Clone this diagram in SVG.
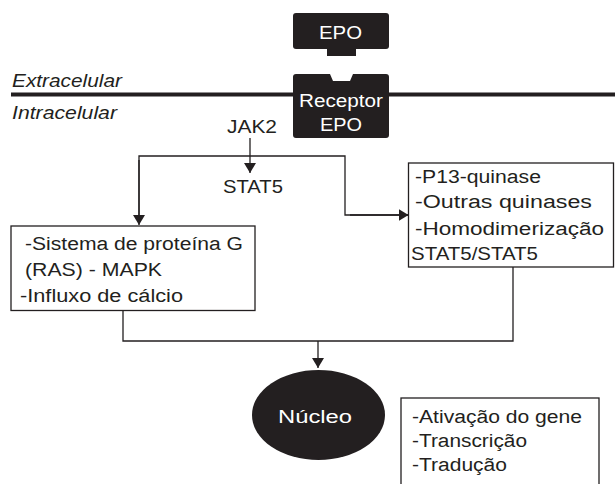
<svg xmlns="http://www.w3.org/2000/svg" width="615" height="484" viewBox="0 0 615 484">
<style>
  text { font-family: "Liberation Sans", Arial, Helvetica, sans-serif; font-size: 18px; fill: #231f20; }
  .it { font-style: italic; }
  .wt { fill: #ffffff; }
  .box { fill: #ffffff; stroke: #231f20; stroke-width: 1.3; }
  .dark { fill: #231f20; }
  .conn { fill: none; stroke: #231f20; stroke-width: 1.3; }
</style>
<defs>
  <marker id="arr" viewBox="0 0 10 12" refX="10" refY="6" markerWidth="10" markerHeight="12" markerUnits="userSpaceOnUse" orient="auto">
    <path d="M0,0 L10,6 L0,12 Z" fill="#231f20"/>
  </marker>
</defs>
<rect width="615" height="484" fill="#ffffff"/>

<g id="membrane">
  <line x1="11" y1="94.5" x2="615" y2="94.5" stroke="#231f20" stroke-width="4"/>
  <text class="it" x="12" y="86.5" textLength="110" lengthAdjust="spacingAndGlyphs">Extracelular</text>
  <text class="it" x="12" y="119" textLength="105" lengthAdjust="spacingAndGlyphs">Intracelular</text>
</g>

<g id="epo">
  <rect class="dark" x="293" y="13" width="96" height="36" rx="3"/>
  <rect class="dark" x="327" y="47" width="29" height="9"/>
  <text class="wt" x="319" y="39" textLength="43" lengthAdjust="spacingAndGlyphs">EPO</text>
</g>

<g id="receptor">
  <path class="dark" d="M296,74 H330 L333,81 H350 L353,74 H386 Q389,74 389,77 V135 Q389,138 386,138 H296 Q293,138 293,135 V77 Q293,74 296,74 Z"/>
  <text class="wt" x="299" y="106.5" textLength="84" lengthAdjust="spacingAndGlyphs">Receptor</text>
  <text class="wt" x="320" y="130.5" textLength="42" lengthAdjust="spacingAndGlyphs">EPO</text>
</g>

<g id="jak2">
  <text x="227" y="133" textLength="50" lengthAdjust="spacingAndGlyphs">JAK2</text>
</g>

<g id="stat5">
  <text x="223" y="193" textLength="60" lengthAdjust="spacingAndGlyphs">STAT5</text>
</g>

<g id="connectors">
  <line class="conn" x1="250" y1="138" x2="250" y2="173" marker-end="url(#arr)"/>
  <polyline class="conn" points="139,222 139,156 345,156 345,215 408,215"/>
  <line class="conn" x1="139" y1="160" x2="139" y2="225" marker-end="url(#arr)"/>
  <line class="conn" x1="350" y1="215" x2="408.5" y2="215" marker-end="url(#arr)"/>
  <polyline class="conn" points="123,310.5 123,341 513,341 513,267"/>
  <line class="conn" x1="318" y1="341" x2="318" y2="368" marker-end="url(#arr)"/>
</g>

<g id="box-left">
  <rect class="box" x="11" y="226" width="244" height="84.5"/>
  <text x="25" y="250" textLength="218" lengthAdjust="spacingAndGlyphs">-Sistema de proteína G</text>
  <text x="25" y="276" textLength="137" lengthAdjust="spacingAndGlyphs">(RAS) - MAPK</text>
  <text x="20" y="302" textLength="163" lengthAdjust="spacingAndGlyphs">-Influxo de cálcio</text>
</g>

<g id="box-right">
  <rect class="box" x="408.5" y="163" width="205" height="104"/>
  <text x="415" y="183" textLength="126" lengthAdjust="spacingAndGlyphs">-P13-quinase</text>
  <text x="415" y="208" textLength="177" lengthAdjust="spacingAndGlyphs">-Outras quinases</text>
  <text x="415" y="235" textLength="189" lengthAdjust="spacingAndGlyphs">-Homodimerização</text>
  <text x="411" y="260" textLength="127" lengthAdjust="spacingAndGlyphs">STAT5/STAT5</text>
</g>

<g id="nucleo">
  <ellipse class="dark" cx="318.5" cy="415" rx="66.5" ry="45"/>
  <text class="wt" x="278" y="423" textLength="74" lengthAdjust="spacingAndGlyphs">Núcleo</text>
</g>

<g id="box-bottom">
  <rect class="box" x="401" y="398" width="198" height="100"/>
  <text x="412" y="423" textLength="170" lengthAdjust="spacingAndGlyphs">-Ativação do gene</text>
  <text x="412" y="447" textLength="115" lengthAdjust="spacingAndGlyphs">-Transcrição</text>
  <text x="412" y="471" textLength="95" lengthAdjust="spacingAndGlyphs">-Tradução</text>
</g>
</svg>
